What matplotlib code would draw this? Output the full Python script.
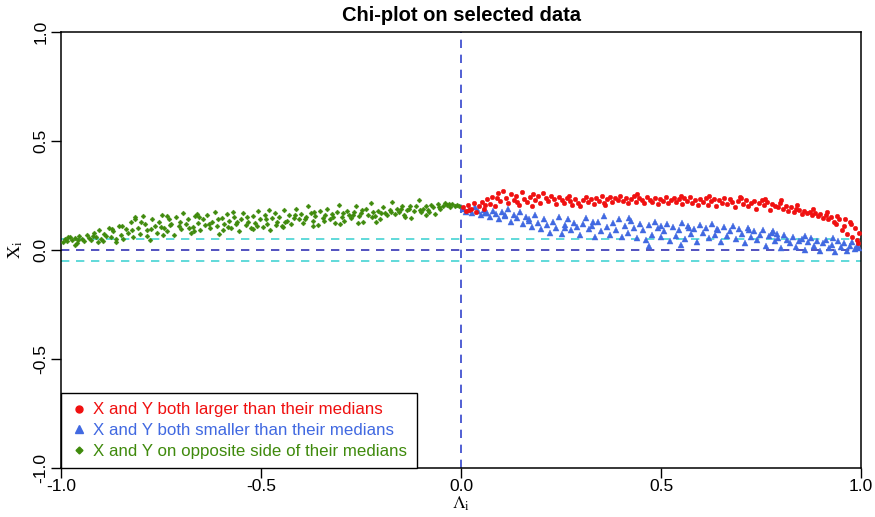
import matplotlib
matplotlib.use("Agg")
import matplotlib.pyplot as plt
from matplotlib.lines import Line2D

plt.rcParams['font.family'] = ['Liberation Sans', 'DejaVu Sans']
plt.rcParams['mathtext.fontset'] = 'stix'

title = "Chi-plot on selected data"
legend_labels = ["X and Y both larger than their medians",
                 "X and Y both smaller than their medians",
                 "X and Y on opposite side of their medians"]
ticks = [-1.0, -0.5, 0.0, 0.5, 1.0]
tick_labels = ["-1.0", "-0.5", "0.0", "0.5", "1.0"]
ci_band = 0.052

green_x = [-0.995,-0.99,-0.985,-0.978,-0.972,-0.966,-0.96,-0.955,-0.948,-0.942,
           -0.936,-0.93,-0.924,-0.918,-0.912,-0.905,-0.899,-0.893,-0.887,-0.881,
           -0.875,-0.869,-0.862,-0.856,-0.85,-0.844,-0.838,-0.832,-0.826,-0.82,
           -0.814,-0.808,-0.802,-0.796,-0.79,-0.784,-0.778,-0.772,-0.766,-0.76,
           -0.754,-0.748,-0.742,-0.736,-0.73,-0.724,-0.718,-0.712,-0.706,-0.70,
           -0.694,-0.688,-0.682,-0.676,-0.67,-0.664,-0.658,-0.652,-0.646,-0.64,
           -0.634,-0.628,-0.622,-0.616,-0.61,-0.604,-0.598,-0.592,-0.586,-0.58,
           -0.574,-0.568,-0.562,-0.556,-0.55,-0.544,-0.538,-0.532,-0.526,-0.52,
           -0.514,-0.508,-0.502,-0.496,-0.49,-0.484,-0.478,-0.472,-0.466,-0.46,
           -0.454,-0.448,-0.442,-0.436,-0.43,-0.424,-0.418,-0.412,-0.406,-0.40,
           -0.394,-0.388,-0.382,-0.376,-0.37,-0.364,-0.358,-0.352,-0.346,-0.34,
           -0.334,-0.328,-0.322,-0.316,-0.31,-0.304,-0.298,-0.292,-0.286,-0.28,
           -0.274,-0.268,-0.262,-0.256,-0.25,-0.244,-0.238,-0.232,-0.226,-0.22,
           -0.214,-0.208,-0.202,-0.196,-0.19,-0.184,-0.178,-0.172,-0.166,-0.16,
           -0.154,-0.148,-0.142,-0.136,-0.13,-0.124,-0.118,-0.112,-0.106,-0.10,
           -0.094,-0.088,-0.082,-0.076,-0.07,-0.064,-0.058,-0.052,-0.046,-0.04,
           -0.034,-0.028,-0.022,-0.016,-0.01,-0.005,
           -0.982,-0.958,-0.921,-0.896,-0.872,-0.848,-0.823,-0.799,-0.775,-0.751,
           -0.727,-0.703,-0.679,-0.655,-0.631,-0.607,-0.583,-0.559,-0.535,-0.511,
           -0.487,-0.463,-0.439,-0.415,-0.391,-0.367,-0.343,-0.319,-0.295,-0.271,
           -0.247,-0.223,-0.199,-0.175,-0.151,-0.127,-0.103,-0.079,-0.055,-0.031,
           -0.965,-0.908,-0.862,-0.785,-0.745,-0.668,-0.595,-0.52,-0.445,-0.37,
           -0.302,-0.258,-0.213,-0.139,-0.087,-0.815,-0.735,-0.66,-0.57,-0.48]
green_y = [0.035,0.05,0.04,0.06,0.045,0.055,0.03,0.065,0.05,0.04,
           0.07,0.055,0.045,0.08,0.06,0.09,0.05,0.075,0.065,0.10,
           0.06,0.085,0.035,0.11,0.07,0.05,0.095,0.08,0.13,0.06,
           0.15,0.10,0.075,0.155,0.12,0.09,0.045,0.14,0.11,0.08,
           0.13,0.16,0.10,0.085,0.14,0.12,0.07,0.15,0.11,0.095,
           0.17,0.12,0.14,0.08,0.105,0.155,0.125,0.09,0.14,0.115,
           0.16,0.10,0.13,0.175,0.11,0.075,0.145,0.12,0.165,0.135,
           0.10,0.15,0.12,0.085,0.14,0.17,0.115,0.13,0.10,0.155,
           0.125,0.18,0.14,0.105,0.16,0.12,0.09,0.145,0.17,0.13,
           0.15,0.11,0.185,0.135,0.16,0.12,0.145,0.19,0.14,0.165,
           0.125,0.15,0.20,0.17,0.135,0.155,0.115,0.18,0.145,0.16,
           0.19,0.14,0.165,0.125,0.175,0.205,0.15,0.135,0.18,0.16,
           0.145,0.175,0.20,0.155,0.17,0.13,0.19,0.16,0.215,0.175,
           0.155,0.18,0.14,0.195,0.17,0.16,0.185,0.22,0.165,0.19,
           0.175,0.20,0.16,0.185,0.19,0.145,0.18,0.20,0.23,0.175,
           0.19,0.20,0.185,0.205,0.195,0.165,0.21,0.19,0.20,0.215,
           0.205,0.195,0.21,0.20,0.205,0.20,
           0.06,0.045,0.065,0.04,0.095,0.11,0.09,0.13,0.095,0.105,
           0.115,0.13,0.10,0.15,0.12,0.14,0.105,0.13,0.15,0.11,
           0.14,0.115,0.13,0.16,0.14,0.175,0.135,0.15,0.17,0.16,
           0.185,0.15,0.17,0.175,0.19,0.20,0.185,0.175,0.195,0.21,
           0.025,0.035,0.05,0.065,0.07,0.085,0.09,0.095,0.105,0.11,
           0.12,0.125,0.13,0.15,0.16,0.14,0.155,0.165,0.175,0.185]

red_x = [0.005,0.012,0.018,0.025,0.032,0.038,0.045,0.052,0.058,0.065,
         0.072,0.078,0.085,0.092,0.098,0.105,0.112,0.118,0.125,0.132,
         0.138,0.145,0.152,0.158,0.165,0.172,0.178,0.185,0.192,0.198,
         0.205,0.212,0.218,0.225,0.232,0.238,0.245,0.252,0.258,0.265,
         0.272,0.278,0.285,0.292,0.298,0.305,0.312,0.318,0.325,0.332,
         0.338,0.345,0.352,0.358,0.365,0.372,0.378,0.385,0.392,0.398,
         0.405,0.412,0.418,0.425,0.432,0.438,0.445,0.452,0.458,0.465,
         0.472,0.478,0.485,0.492,0.498,0.505,0.512,0.518,0.525,0.532,
         0.538,0.545,0.552,0.558,0.565,0.572,0.578,0.585,0.592,0.598,
         0.605,0.612,0.618,0.625,0.632,0.638,0.645,0.652,0.658,0.665,
         0.672,0.678,0.685,0.692,0.698,0.705,0.712,0.718,0.725,0.732,
         0.738,0.745,0.752,0.758,0.765,0.772,0.778,0.785,0.792,0.798,
         0.805,0.812,0.818,0.825,0.832,0.838,0.845,0.852,0.858,0.865,
         0.872,0.878,0.885,0.892,0.898,0.905,0.912,0.918,0.925,0.932,
         0.938,0.945,0.952,0.958,0.965,0.972,0.978,0.985,0.99,0.995,
         0.02,0.06,0.09,0.14,0.18,0.27,0.36,0.44,0.55,0.62,
         0.70,0.76,0.80,0.84,0.88,0.915,0.94,0.96,0.975,0.993]
red_y = [0.195,0.18,0.205,0.19,0.215,0.175,0.20,0.22,0.19,0.235,
         0.21,0.245,0.20,0.26,0.225,0.27,0.24,0.215,0.255,0.23,
         0.25,0.205,0.265,0.235,0.22,0.245,0.20,0.23,0.25,0.215,
         0.26,0.24,0.225,0.25,0.235,0.21,0.245,0.23,0.215,0.24,
         0.225,0.205,0.235,0.215,0.20,0.23,0.245,0.22,0.235,0.21,
         0.24,0.225,0.25,0.215,0.235,0.245,0.22,0.24,0.23,0.25,
         0.225,0.24,0.215,0.235,0.25,0.22,0.24,0.23,0.215,0.245,
         0.23,0.22,0.24,0.21,0.235,0.225,0.245,0.215,0.23,0.24,
         0.22,0.235,0.21,0.24,0.225,0.245,0.215,0.23,0.205,0.235,
         0.22,0.24,0.205,0.225,0.235,0.20,0.23,0.215,0.24,0.21,
         0.235,0.22,0.195,0.225,0.245,0.21,0.23,0.20,0.215,0.225,
         0.19,0.215,0.23,0.205,0.22,0.185,0.21,0.20,0.195,0.215,
         0.19,0.20,0.18,0.195,0.175,0.19,0.185,0.165,0.18,0.17,
         0.175,0.16,0.17,0.155,0.165,0.145,0.16,0.14,0.15,0.13,
         0.12,0.14,0.09,0.11,0.075,0.13,0.06,0.10,0.045,0.08,
         0.185,0.205,0.24,0.22,0.255,0.25,0.205,0.255,0.25,0.25,
         0.24,0.235,0.23,0.205,0.19,0.175,0.155,0.14,0.12,0.03]

blue_x = [0.005,0.012,0.02,0.028,0.035,0.042,0.05,0.058,0.065,0.072,
          0.08,0.088,0.095,0.102,0.11,0.118,0.125,0.132,0.14,0.148,
          0.155,0.162,0.17,0.178,0.185,0.192,0.20,0.208,0.215,0.222,
          0.23,0.238,0.245,0.252,0.26,0.268,0.275,0.282,0.29,0.298,
          0.305,0.312,0.32,0.328,0.335,0.342,0.35,0.358,0.365,0.372,
          0.38,0.388,0.395,0.402,0.41,0.418,0.425,0.432,0.44,0.448,
          0.455,0.462,0.47,0.478,0.485,0.492,0.50,0.508,0.515,0.522,
          0.53,0.538,0.545,0.552,0.56,0.568,0.575,0.582,0.59,0.598,
          0.605,0.612,0.62,0.628,0.635,0.642,0.65,0.658,0.665,0.672,
          0.68,0.688,0.695,0.702,0.71,0.718,0.725,0.732,0.74,0.748,
          0.755,0.762,0.77,0.778,0.785,0.792,0.80,0.808,0.815,0.822,
          0.83,0.838,0.845,0.852,0.86,0.868,0.875,0.882,0.89,0.898,
          0.905,0.912,0.92,0.928,0.935,0.942,0.95,0.958,0.965,0.972,
          0.978,0.985,0.99,0.995,0.06,0.11,0.17,0.26,0.33,0.42,
          0.50,0.57,0.64,0.72,0.79,0.86,0.93,0.47,0.55,0.78]
blue_y = [0.19,0.175,0.185,0.17,0.195,0.18,0.16,0.185,0.17,0.15,
          0.18,0.165,0.14,0.175,0.155,0.19,0.13,0.16,0.145,0.175,
          0.12,0.15,0.135,0.105,0.16,0.125,0.095,0.14,0.115,0.08,
          0.13,0.10,0.15,0.075,0.115,0.14,0.09,0.125,0.105,0.07,
          0.12,0.145,0.095,0.11,0.06,0.13,0.085,0.155,0.105,0.07,
          0.125,0.09,0.14,0.06,0.11,0.08,0.135,0.10,0.055,0.12,
          0.09,0.045,0.115,0.07,0.13,0.10,0.06,0.085,0.12,0.04,
          0.105,0.065,0.09,0.125,0.05,0.11,0.075,0.095,0.035,0.115,
          0.08,0.10,0.055,0.12,0.07,0.09,0.035,0.105,0.065,0.085,
          0.11,0.05,0.095,0.075,0.03,0.10,0.06,0.085,0.045,0.07,
          0.09,0.02,0.065,0.08,0.04,0.055,0.01,0.07,0.045,0.03,
          0.06,0.015,0.04,0.05,0.0,0.035,0.055,0.02,0.04,-0.005,
          0.03,0.045,0.01,0.025,-0.01,0.04,0.015,0.03,-0.005,0.02,
          0.035,0.005,0.02,0.01,0.17,0.16,0.14,0.10,0.13,0.145,
          0.11,0.10,0.095,0.09,0.075,0.065,0.055,0.02,0.025,0.085]

RED = "#f01010"
BLUE = "#4169e1"
GREEN = "#3f8a0c"

fig = plt.figure(figsize=(8.75, 5.17), dpi=100)
ax = fig.add_axes([61/875, 49/517, 800/875, 436/517])

ax.axhline(0, color="#3333b5", lw=1.2, ls=(0, (5, 4)), zorder=1)
ax.axhline(ci_band, color="#45d3d3", lw=1.2, ls=(0, (5, 4)), zorder=1)
ax.axhline(-ci_band, color="#45d3d3", lw=1.2, ls=(0, (5, 4)), zorder=1)
ax.axvline(0, color="#3344cc", lw=1.2, ls=(0, (5, 4)), zorder=1)

ax.plot(green_x, green_y, ls="none", marker="D", ms=2.5, color=GREEN, mec=GREEN, mew=0.3, zorder=3)
ax.plot(blue_x, blue_y, ls="none", marker="^", ms=3.8, color=BLUE, mec=BLUE, mew=0.3, zorder=3)
ax.plot(red_x, red_y, ls="none", marker="o", ms=3.3, color=RED, mec=RED, mew=0.3, zorder=4)

ax.set_xlim(-1, 1)
ax.set_ylim(-1, 1)
ax.set_xticks(ticks)
ax.set_xticklabels(tick_labels, fontsize=12.5)
ax.set_yticks(ticks)
ax.set_yticklabels(tick_labels, fontsize=12.5, rotation=90, va="center")
ax.tick_params(direction="out", length=7, width=1)
ax.tick_params(axis="x", pad=1)
ax.tick_params(axis="y", pad=2)
for s in ax.spines.values():
    s.set_linewidth(1.1)

ax.set_title(title, fontsize=14.5, fontweight="bold", pad=8)
ax.set_xlabel(r"$\Lambda_\mathrm{i}$", fontsize=13, labelpad=0)
ax.set_ylabel(r"$\mathrm{X}_\mathrm{i}$", fontsize=13, labelpad=6)

handles = [Line2D([], [], ls="none", marker="o", ms=5, color=RED),
           Line2D([], [], ls="none", marker="^", ms=5.5, color=BLUE),
           Line2D([], [], ls="none", marker="D", ms=3.5, color=GREEN)]
leg = ax.legend(handles, legend_labels, loc="lower left", bbox_to_anchor=(0, 0),
                borderaxespad=0, fancybox=False, framealpha=1, edgecolor="black",
                fontsize=12.2, handlelength=1.0, handletextpad=0.35, labelspacing=0.33,
                borderpad=0.55)
leg.get_frame().set_linewidth(1.0)
for t, c in zip(leg.get_texts(), [RED, BLUE, GREEN]):
    t.set_color(c)

fig.savefig("out.png", dpi=100)
